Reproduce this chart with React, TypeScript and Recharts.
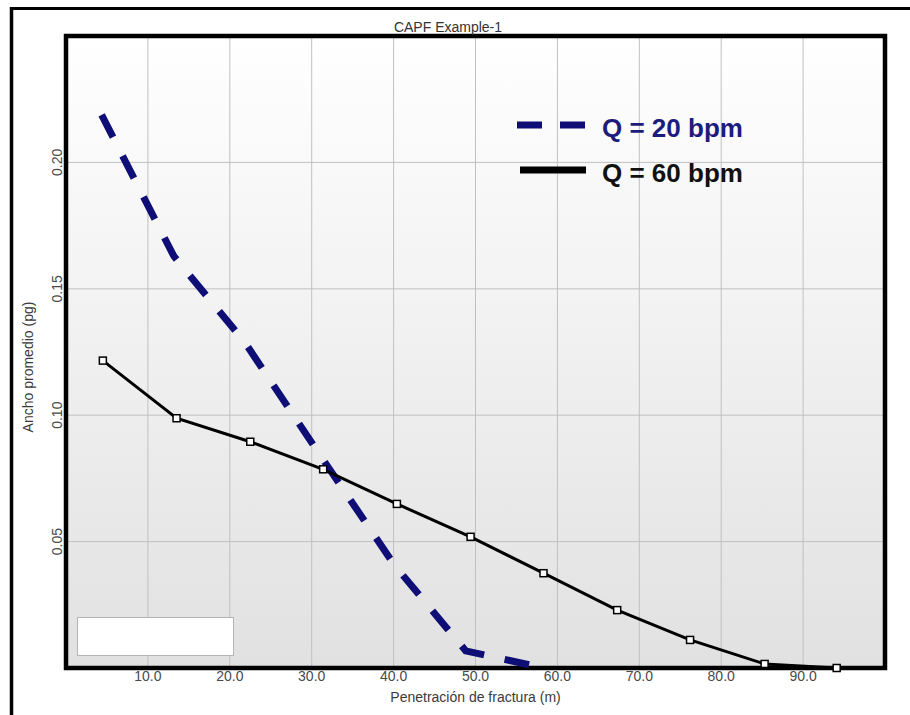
import React from "react";
import {
  LineChart,
  Line,
  XAxis,
  YAxis,
  CartesianGrid,
  ReferenceArea,
  Legend,
} from "recharts";

// Q = 20 bpm (dashed navy)
const q20Pen = [4.35, 13.15, 21.8, 31.0, 40.1, 48.8, 57.5];
const q20Width = [0.2188, 0.163, 0.129, 0.0843, 0.0407, 0.0068, 0.0006];

// Q = 60 bpm (solid black with square markers)
const q60Pen = [4.5, 13.5, 22.5, 31.4, 40.4, 49.4, 58.3, 67.3, 76.2, 85.3, 94.1];
const q60Width = [0.1216, 0.0988, 0.0895, 0.0786, 0.0649, 0.0519, 0.0375, 0.0229, 0.0111, 0.0016, 0.0];

const xTicks = [10, 20, 30, 40, 50, 60, 70, 80, 90];
const yTicks = [0.05, 0.1, 0.15, 0.2];

const seriesNames = ["Q = 20 bpm", "Q = 60 bpm"];

const q20Data = q20Pen.map((x, i) => ({ x, y: q20Width[i] }));
const q60Data = q60Pen.map((x, i) => ({ x, y: q60Width[i] }));

const NAVY = "#0e0e76";
const FONT = "'Liberation Sans', Arial, sans-serif";

const SquareDot = (props: any) => {
  const { cx, cy, index } = props;
  if (cx == null || cy == null) return null;
  return (
    <rect
      key={`sq-${index}`}
      x={cx - 3.5}
      y={cy - 3.5}
      width={7}
      height={7}
      fill="#fff"
      stroke="#000"
      strokeWidth={1.5}
    />
  );
};

const YTick = (props: any) => {
  const { x, y, payload } = props;
  const bx = x - 4;
  return (
    <text
      x={bx}
      y={y}
      transform={`rotate(-90 ${bx} ${y})`}
      textAnchor="middle"
      fontSize={14}
      fontFamily={FONT}
      fill="#4a4a4a"
    >
      {Number(payload.value).toFixed(2)}
    </text>
  );
};

const renderLegend = () => (
  <svg width={280} height={95} style={{ display: "block" }}>
    <line x1={7} x2={75} y1={25} y2={25} stroke={NAVY} strokeWidth={7} strokeDasharray="25 18" />
    <text x={92} y={37} fontSize={26} fontWeight="bold" fontFamily={FONT} fill="#1c1c7c">
      {seriesNames[0]}
    </text>
    <line x1={10} x2={76} y1={70} y2={70} stroke="#000" strokeWidth={7} />
    <text x={92} y={82} fontSize={26} fontWeight="bold" fontFamily={FONT} fill="#111">
      {seriesNames[1]}
    </text>
  </svg>
);

export default function App() {
  return (
    <div
      style={{
        position: "absolute",
        left: 0,
        top: 0,
        width: 910,
        height: 715,
        background: "#fff",
        fontFamily: FONT,
      }}
    >
      <LineChart
        width={910}
        height={715}
        margin={{ top: 36, right: 25, left: 0, bottom: 0 }}
      >
        <defs>
          <linearGradient id="plotBg" x1="0" y1="0" x2="0" y2="1">
            <stop offset="0%" stopColor="#ffffff" />
            <stop offset="100%" stopColor="#e1e1e1" />
          </linearGradient>
        </defs>
        <CartesianGrid stroke="#c0c0c0" fill="url(#plotBg)" fillOpacity={1} />
        <XAxis
          type="number"
          dataKey="x"
          domain={[0, 100]}
          ticks={xTicks}
          tickFormatter={(v: number) => v.toFixed(1)}
          axisLine={false}
          tickLine={false}
          tickSize={0}
          tickMargin={3}
          height={47}
          tick={{ fill: "#4a4a4a", fontSize: 14, fontFamily: FONT }}
          label={{
            value: "Penetración de fractura (m)",
            position: "insideBottom",
            offset: 13,
            fill: "#3a3a3a",
            fontSize: 14,
            fontFamily: FONT,
          }}
        />
        <YAxis
          type="number"
          dataKey="y"
          domain={[0, 0.25]}
          ticks={yTicks}
          axisLine={false}
          tickLine={false}
          tickSize={0}
          tickMargin={0}
          width={66}
          tick={<YTick />}
          label={{
            value: "Ancho promedio (pg)",
            angle: -90,
            position: "center",
            dx: -5,
            dy: 15,
            fill: "#3a3a3a",
            fontSize: 14,
            fontFamily: FONT,
          }}
        />
        <ReferenceArea
          x1={0}
          x2={100}
          y1={0}
          y2={0.25}
          fill="none"
          stroke="#000"
          strokeWidth={4.5}
          strokeOpacity={1}
        />
        <Legend
          layout="vertical"
          align="center"
          verticalAlign="middle"
          content={renderLegend}
          wrapperStyle={{ position: "absolute", left: 510, top: 100, width: 280, height: 95 }}
        />
        <Line
          data={q20Data}
          dataKey="y"
          name={seriesNames[0]}
          type="linear"
          stroke={NAVY}
          strokeWidth={7}
          strokeDasharray="25 21"
          dot={false}
          activeDot={false}
          isAnimationActive={false}
        />
        <Line
          data={q60Data}
          dataKey="y"
          name={seriesNames[1]}
          type="linear"
          stroke="#000"
          strokeWidth={3}
          dot={<SquareDot />}
          activeDot={false}
          isAnimationActive={false}
        />
      </LineChart>
      <svg
        width={910}
        height={715}
        style={{ position: "absolute", left: 0, top: 0, pointerEvents: "none" }}
      >
        <line x1={10} x2={910} y1={8.5} y2={8.5} stroke="#000" strokeWidth={3} />
        <line x1={11.5} x2={11.5} y1={7} y2={715} stroke="#000" strokeWidth={3.5} />
        <text x={448} y={32} textAnchor="middle" fontSize={14} fontFamily={FONT} fill="#333">
          CAPF Example-1
        </text>
        <rect x={77.5} y={617.5} width={156} height={38} fill="#fff" stroke="#b4b4b4" strokeWidth={1} />
      </svg>
    </div>
  );
}
